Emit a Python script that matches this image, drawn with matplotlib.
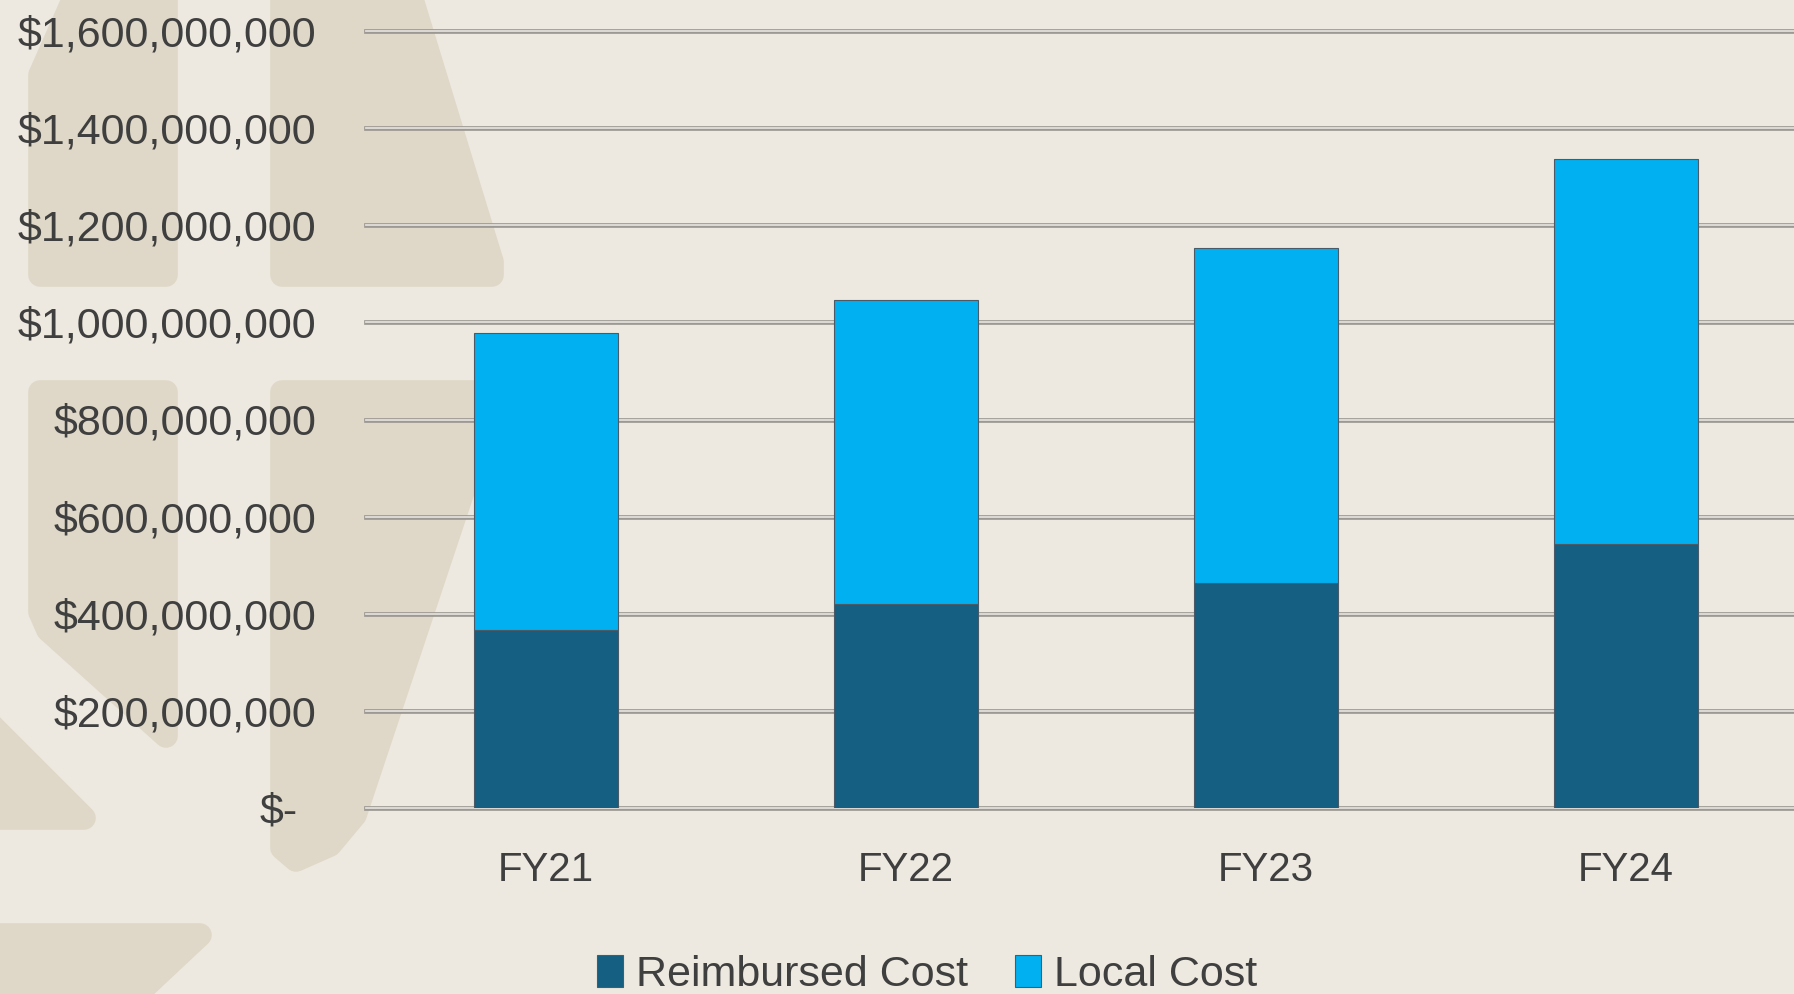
import matplotlib
matplotlib.use("Agg")
import matplotlib.pyplot as plt
import matplotlib.patheffects as pe
from matplotlib.patches import Polygon, Patch
from matplotlib.transforms import ScaledTranslation

# data
years = ["FY21", "FY22", "FY23", "FY24"]
reimbursed = [366e6, 421e6, 464e6, 543e6]
local = [612e6, 625e6, 689e6, 794e6]
ytick_values = [0, 2e8, 4e8, 6e8, 8e8, 1e9, 1.2e9, 1.4e9, 1.6e9]
ytick_labels = ["$-", "$200,000,000", "$400,000,000", "$600,000,000",
                "$800,000,000", "$1,000,000,000", "$1,200,000,000",
                "$1,400,000,000", "$1,600,000,000"]

W, H = 1794, 994
BG = "#ede9e0"
SHAPE = "#dfd8c8"
DARK = "#156082"
LIGHT = "#00b0f0"
TXT = "#3f3f3f"


def px(x, y):
    """Pixel position (from top-left) to figure fraction."""
    return (x / W, 1 - y / H)


# watermark shapes in the background (pixel coords, inset for round joins)
shapes = [
    [(40, 75), (82, -20), (166, -20), (166, 275), (40, 275)],
    [(282, -20), (406, -20), (492, 262), (492, 275), (282, 275)],
    [(40, 392), (166, 392), (166, 736), (48, 630), (40, 612)],
    [(282, 392), (496, 392), (355, 815), (330, 845), (296, 860),
     (282, 848)],
    [(-20, 714), (84, 818), (-20, 818)],
    [(-20, 935), (200, 935), (120, 1010), (-20, 1010)],
]

fig = plt.figure(figsize=(W / 100, H / 100), dpi=100)
fig.patch.set_facecolor(BG)

for pts in shapes:
    poly = Polygon([px(x, y) for x, y in pts], closed=True,
                   transform=fig.transFigure, facecolor=SHAPE,
                   edgecolor=SHAPE, linewidth=17, joinstyle="round",
                   zorder=-1)
    fig.add_artist(poly)

ax = fig.add_axes([366 / W, 1 - 808 / H, (1806 - 366) / W, (808 - 31) / H])
ax.set_facecolor("none")

x = range(len(years))
ax.bar(x, reimbursed, width=0.4, color=DARK, edgecolor="#4a5a66",
       linewidth=0.8, zorder=3)
ax.bar(x, local, width=0.4, bottom=reimbursed, color=LIGHT,
       edgecolor="#4a5a66", linewidth=0.8, zorder=3)

ax.set_xlim(-0.5, 3.5)
ax.set_ylim(0, 1.6e9)
ax.set_xticks(list(x))
ax.set_xticklabels(years)
ax.set_yticks(ytick_values)
ax.set_yticklabels(ytick_labels)

for s in ax.spines.values():
    s.set_visible(False)

ax.set_axisbelow(True)
ax.yaxis.grid(True, color="#e2dfda", linewidth=1.3)
for line in ax.get_ygridlines():
    line.set_path_effects([pe.Stroke(linewidth=3.4, foreground="#9c9893"),
                           pe.Normal()])
    line.set_clip_on(False)

ax.tick_params(axis="both", length=0, colors=TXT)
ax.tick_params(axis="y", pad=36)
ax.tick_params(axis="x", pad=31)
for lab in ax.get_xticklabels():
    lab.set_fontfamily("Liberation Sans")
    lab.set_fontsize(29)
    lab.set_color(TXT)
for lab in ax.get_yticklabels():
    lab.set_fontfamily("Liberation Sans")
    lab.set_fontsize(31)
    lab.set_color(TXT)

# the zero label sits a little left, like Excel's accounting format
zero = ax.get_yticklabels()[0]
zero.set_transform(zero.get_transform()
                   + ScaledTranslation(-0.18, 0, fig.dpi_scale_trans))

handles = [Patch(facecolor=DARK, edgecolor="#4a5a66", linewidth=0.8),
           Patch(facecolor=LIGHT, edgecolor="#4a5a66", linewidth=0.8)]
fig.legend(handles, ["Reimbursed Cost", "Local Cost"], loc="center",
           bbox_to_anchor=px(927, 975), ncol=2, frameon=False,
           prop={"family": "Liberation Sans", "size": 31},
           labelcolor=TXT, handlelength=0.6, handleheight=0.75,
           handletextpad=0.3, columnspacing=1.1)

fig.savefig("out.png", dpi=100, facecolor=BG)
